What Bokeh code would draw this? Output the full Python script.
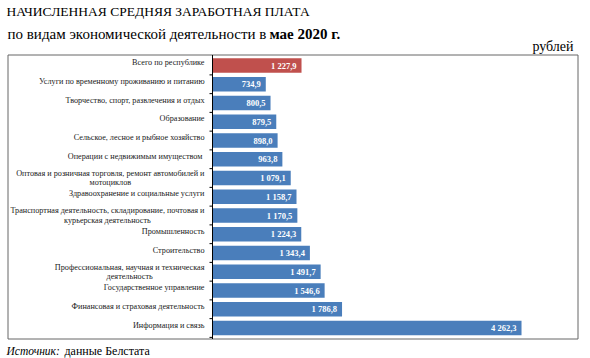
import math
from bokeh.plotting import figure
from bokeh.models import ColumnDataSource, Range1d
from bokeh.core.properties import value
from bokeh.embed import file_html
from bokeh.resources import INLINE

categories = [
    "Всего по республике",
    "Услуги по временному проживанию и питанию",
    "Творчество, спорт, развлечения и отдых",
    "Образование",
    "Сельское, лесное и рыбное хозяйство",
    "Операции с  недвижимым имуществом",
    "Оптовая и розничная торговля, ремонт автомобилей и\nмотоциклов",
    "Здравоохранение и социальные услуги",
    "Транспортная деятельность, складирование, почтовая и\nкурьерская деятельность",
    "Промышленность",
    "Строительство",
    "Профессиональная, научная и техническая\nдеятельность",
    "Государственное управление",
    "Финансовая и страховая деятельность",
    "Информация и связь",
]
wages = [1227.9, 734.9, 800.5, 879.5, 898.0, 963.8, 1079.1, 1158.7,
         1170.5, 1224.3, 1343.4, 1491.7, 1546.6, 1786.8, 4262.3]

title_text = "НАЧИСЛЕННАЯ СРЕДНЯЯ ЗАРАБОТНАЯ ПЛАТА"
subtitle_text = "по видам экономической деятельности в"
subtitle_bold = "мае 2020 г."
unit_text = "рублей"
source_italic = "Источник:"
source_text = "данные Белстата"

BLUE = "#4a7ebb"
RED = "#c0504d"
FONT = "Liberation Serif"

W, H = 590, 358
AXIS_PX = 212          # canvas x of the value axis (value 0)
PX_PER_UNIT = 0.0725   # horizontal scale
ROW0_PX = 65.0         # canvas y of first row centre
ROW_PX = 18.75         # row pitch


def px2x(px):
    return (px - AXIS_PX) / PX_PER_UNIT


def py2y(py):
    return (py - ROW0_PX) / ROW_PX


def fmt(v):
    s = f"{v:,.1f}"
    return s.replace(",", " ").replace(".", ",")


n = len(categories)
rows = list(range(n))
src = ColumnDataSource(dict(
    row=rows,
    cat=categories,
    val=wages,
    lbl=[fmt(v) for v in wages],
    color=[RED if i == 0 else BLUE for i in rows],
    yoff=[0 if "\n" in c else -3 for c in categories],
))

p = figure(
    width=W, height=H,
    x_range=Range1d(px2x(0), px2x(W)),
    y_range=Range1d(py2y(H), py2y(0)),
    output_backend="svg", toolbar_location=None,
    x_axis_location=None, y_axis_location=None,
    min_border=0,
)
p.grid.visible = False
p.outline_line_color = None
p.background_fill_color = "white"
p.border_fill_color = "white"

# chart box
p.quad(left=[px2x(7.5)], right=[px2x(577.5)], top=[py2y(54.5)],
       bottom=[py2y(338.5)], fill_color=None, line_color="#666666",
       line_width=1)

p.hbar(y="row", left=0, right="val", height=0.78, fill_color="color",
       line_color=None, source=src)

p.text(x="val", y="row", text="lbl", x_offset=-5, source=src,
       text_align="right", text_baseline="middle",
       text_color="white", text_font=value(FONT), text_font_style="bold",
       text_font_size="8.5px")

p.text(x=0, y="row", text="cat", x_offset=-8, y_offset="yoff", source=src,
       anchor="center_right", text_align="center", text_baseline="middle",
       text_color="#222222", text_font=value(FONT), text_font_size="8.2px",
       text_line_height=1.05)

# value axis line and category ticks
p.segment(x0=[0], y0=[py2y(54.5)], x1=[0], y1=[py2y(338.5)],
          line_color="black", line_width=1)
p.ray(x=0, y=[r + 0.5 for r in rows], length=3, length_units="screen",
      angle=math.pi, line_color="black", line_width=1)


def txt(text, px, py, size, style="normal", align="left"):
    p.text(x=[px2x(0)], y=[py2y(py)], text=[text], x_offset=px,
           text_align=align, text_baseline="alphabetic",
           text_font=value(FONT), text_font_size=size,
           text_font_style=style, text_color="black")


txt(title_text, 6, 11, "13.5px")
txt(subtitle_text, 7, 33, "15px")
txt(subtitle_bold, 269, 33, "15px", "bold")
txt(unit_text, 573, 46, "14px", align="right")
txt(source_italic, 6, 350, "11.5px", "italic")
txt(source_text, 64, 350, "12px")

open("out.html", "w").write(file_html(p, INLINE))
